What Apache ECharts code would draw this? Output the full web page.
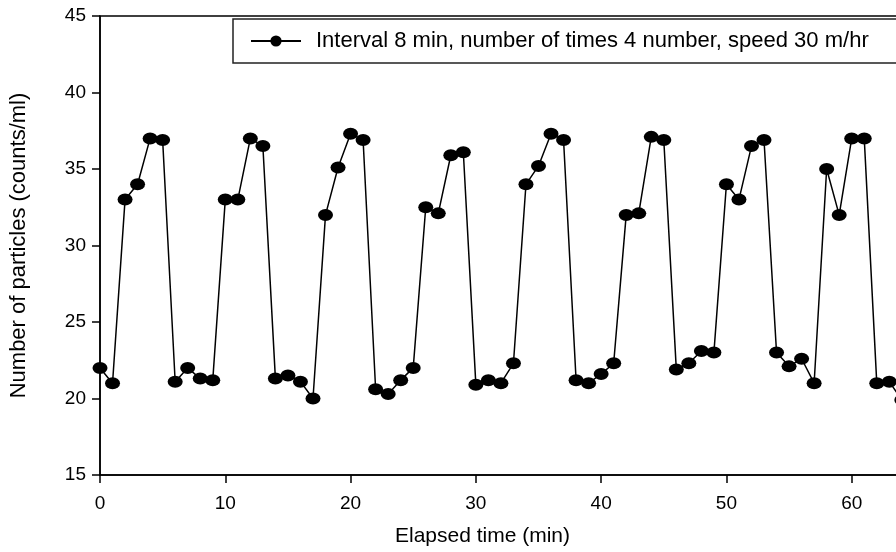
<!DOCTYPE html>
<html>
<head>
<meta charset="utf-8">
<script src="https://cdn.jsdelivr.net/npm/echarts@6/dist/echarts.min.js"></script>
<style>
  html, body { margin: 0; padding: 0; background: #fff; overflow: hidden; }
  #main { width: 1000px; height: 552px; }
</style>
</head>
<body>
<div id="main"></div>
<script>
// elapsed time in minutes, one reading per minute
var minutes = [];
for (var m = 0; m <= 64; m++) minutes.push(m);

var counts = [
  22.0, 21.0, 33.0, 34.0, 37.0, 36.9, 21.1, 22.0, 21.3, 21.2,
  33.0, 33.0, 37.0, 36.5, 21.3, 21.5, 21.1, 20.0, 32.0, 35.1,
  37.3, 36.9, 20.6, 20.3, 21.2, 22.0, 32.5, 32.1, 35.9, 36.1,
  20.9, 21.2, 21.0, 22.3, 34.0, 35.2, 37.3, 36.9, 21.2, 21.0,
  21.6, 22.3, 32.0, 32.1, 37.1, 36.9, 21.9, 22.3, 23.1, 23.0,
  34.0, 33.0, 36.5, 36.9, 23.0, 22.1, 22.6, 21.0, 35.0, 32.0,
  37.0, 37.0, 21.0, 21.1, 19.9
];

var seriesName = 'Interval 8 min, number of times 4 number, speed 30 m/hr';
var xTitle = 'Elapsed time (min)';
var yTitle = 'Number of particles (counts/ml)';

var font = '"Liberation Sans", Arial, sans-serif';

// the plot runs past the right edge of the window, as in the original figure
var chartDom = document.getElementById('main');
var myChart = echarts.init(chartDom, null, { renderer: 'canvas' });

var points = minutes.map(function (t, i) { return [t, counts[i]]; });

var option = {
  animation: false,
  backgroundColor: '#fff',
  textStyle: { fontFamily: font },
  grid: {
    left: 100, top: 16, bottom: 77, right: 23,
    show: true, borderColor: '#000', borderWidth: 1.5
  },
  legend: {
    left: 233, top: 19,
    padding: [11, 40, 11, 17],
    borderColor: '#222', borderWidth: 1.5,
    itemWidth: 50, itemHeight: 14,
    textStyle: { fontSize: 22, color: '#000', fontFamily: font, padding: [0, 0, 0, 10] },
    data: [seriesName]
  },
  xAxis: {
    type: 'value', min: 0, max: 70, interval: 10,
    name: xTitle, nameLocation: 'middle', nameGap: 51,
    nameTextStyle: { fontSize: 21, color: '#000', padding: [0, 112, 0, 0] },
    axisLine: { lineStyle: { color: '#000', width: 1.5 } },
    axisTick: { length: 8, lineStyle: { color: '#000', width: 1.5 } },
    axisLabel: { fontSize: 19, color: '#000', margin: 19 },
    splitLine: { show: false }
  },
  yAxis: {
    type: 'value', min: 15, max: 45, interval: 5,
    name: yTitle, nameLocation: 'middle', nameGap: 70,
    nameTextStyle: { fontSize: 22, color: '#000' },
    axisLine: { onZero: false, lineStyle: { color: '#000', width: 1.5 } },
    axisTick: { length: 8, lineStyle: { color: '#000', width: 1.5 } },
    axisLabel: { fontSize: 19, color: '#000', margin: 14 },
    splitLine: { show: false }
  },
  series: [{
    name: seriesName,
    type: 'line',
    data: points,
    symbol: 'circle',
    symbolSize: [15, 12],
    showAllSymbol: true,
    lineStyle: { color: '#000', width: 1.5 },
    itemStyle: { color: '#000' }
  }]
};

option && myChart.setOption(option);
</script>
</body>
</html>
